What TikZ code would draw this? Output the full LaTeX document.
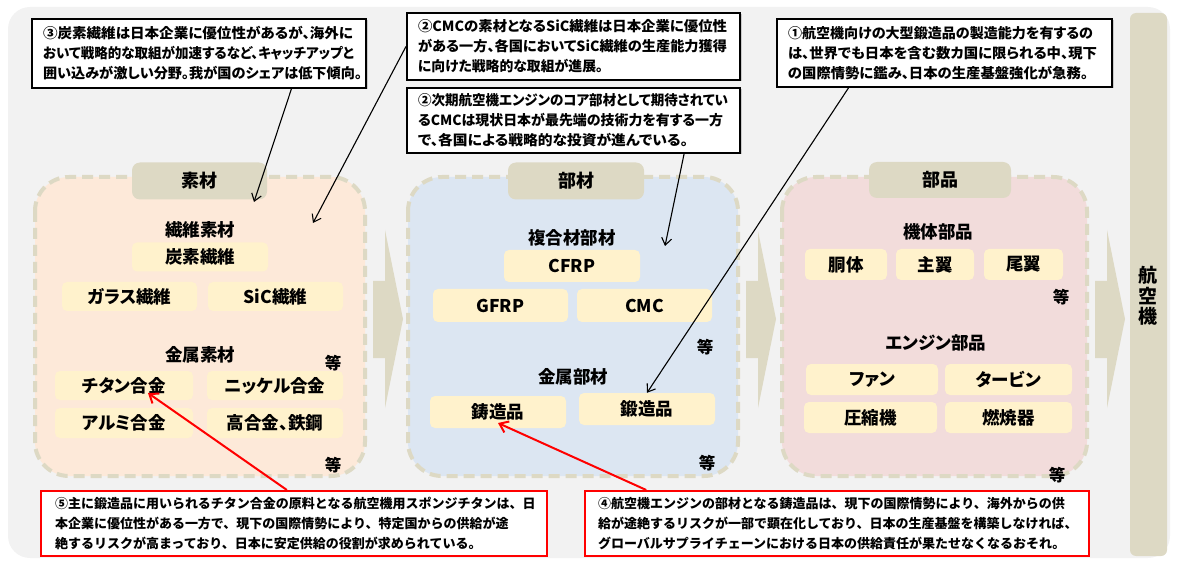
\documentclass[tikz,border=0pt]{standalone}
\usepackage{graphicx}
\usepackage{fontspec}
\setmainfont{Noto Sans CJK JP}[RawFeature=+palt]
\newfontfamily\jpfw{Noto Sans CJK JP}
\usetikzlibrary{arrows.meta,shadows,calc}
\definecolor{bggray}{HTML}{F2F2F2}
\definecolor{tan}{HTML}{DDD9C4}
\definecolor{peach}{HTML}{FDE9D9}
\definecolor{lblue}{HTML}{DCE6F2}
\definecolor{lpink}{HTML}{F2DCDB}
\definecolor{itemy}{HTML}{FFF2CC}
\newcommand\fitw[2]{\resizebox{#1pt}{\height}{#2}}
\tikzset{
  panel/.style={draw=tan, line width=4pt, dash pattern=on 11pt off 6pt, rounded corners=34pt},
  tab/.style={fill=tan, rounded corners=8pt, inner sep=0pt, font=\bfseries\fontsize{18}{20}\selectfont},
  item/.style={fill=itemy, rounded corners=5pt, inner sep=0pt, font=\bfseries\fontsize{17.5}{19}\selectfont},
  lbl/.style={inner sep=0pt, font=\bfseries\fontsize{17.5}{19}\selectfont},
  etc/.style={inner sep=0pt, font=\bfseries\fontsize{16.5}{18}\selectfont},
  chev/.style={fill=tan},
  callout/.style={draw=black, line width=2pt, fill=white, inner xsep=0pt, inner ysep=0pt, align=left,
    font=\bfseries\fontsize{14}{20}\selectfont,
    drop shadow={shadow xshift=1.5pt, shadow yshift=-1.5pt, opacity=0.35}},
  redbox/.style={draw=red, line width=2pt, fill=white, inner xsep=0pt, inner ysep=0pt, align=left,
    font=\jpfw\bfseries\fontsize{13}{20}\selectfont},
  blk/.style={draw=black, line width=1.1pt, -{Straight Barb[length=7pt,width=10pt]}},
  redarr/.style={draw=red, line width=2pt, -{Straight Barb[length=8pt,width=12pt]}},
}
\begin{document}
\begin{tikzpicture}[x=1pt,y=-1pt]
\useasboundingbox (0,0) rectangle (1178,561);
% background
\fill[bggray, rounded corners=22pt] (8,7) rectangle (1170,558);

% panels
\filldraw[panel, fill=peach] (35,177) rectangle (365,476);
\filldraw[panel, fill=lblue] (408,177) rectangle (738,476);
\filldraw[panel, fill=lpink] (782,177) rectangle (1087,476);

% tabs
\node[tab, minimum width=135pt, minimum height=37pt] (t1) at (199.5,181) {素材};
\node[tab, minimum width=136pt, minimum height=37pt] (t2) at (576,181) {部材};
\node[tab, minimum width=142pt, minimum height=36pt] (t3) at (940,180) {部品};

% chevrons
\fill[chev] (373,281) -- (385,281) -- (385,230) -- (403,319) -- (385,408) -- (385,358) -- (373,358) -- cycle;
\fill[chev] (746,281) -- (758,281) -- (758,231) -- (776,319) -- (758,408) -- (758,358) -- (746,358) -- cycle;
\fill[chev] (1095,281) -- (1107,281) -- (1107,230) -- (1125,319) -- (1107,408) -- (1107,358) -- (1095,358) -- cycle;

% aircraft column
\fill[tan, rounded corners=6pt] (1130,13) rectangle (1167,556);
\node[inner sep=0pt, align=center, font=\bfseries\fontsize{19}{20.5}\selectfont] (ac) at (1148,296) {航\\空\\機};

% 素材 panel
\node[lbl] (l11) at (200,230) {繊維素材};
\node[item, minimum width=136pt, minimum height=29pt] (cf) at (200,257) {炭素繊維};
\node[item, minimum width=135pt, minimum height=29pt] (gf) at (129.5,296.5) {ガラス繊維};
\node[item, minimum width=135pt, minimum height=29pt] (sf) at (275.5,296.5) {SiC繊維};
\node[lbl] (l12) at (200,355) {金属素材};
\node[etc] (e11) at (333,363) {等};
\node[item, minimum width=138pt, minimum height=29pt] (ti) at (124,385.5) {チタン合金};
\node[item, minimum width=136pt, minimum height=29pt] (ni) at (275,385.5) {ニッケル合金};
\node[item, minimum width=138pt, minimum height=30pt] (al) at (124,423) {アルミ合金};
\node[item, minimum width=136pt, minimum height=30pt] (st) at (275,423) {高合金、鉄鋼};
\node[etc] (e12) at (333,465) {等};

% 部材 panel
\node[lbl] (l21) at (572,238) {複合材部材};
\node[item, minimum width=136pt, minimum height=32pt] (cfrp) at (572,266) {CFRP};
\node[item, minimum width=135pt, minimum height=33pt] (gfrp) at (500.5,305.5) {GFRP};
\node[item, minimum width=135pt, minimum height=33pt] (cmc) at (644.5,305.5) {CMC};
\node[etc] (e21) at (705,347) {等};
\node[lbl] (l22) at (573,377) {金属部材};
\node[item, minimum width=136pt, minimum height=32pt] (cast) at (498,412) {鋳造品};
\node[item, minimum width=136pt, minimum height=32pt] (forge) at (647,409) {鍛造品};
\node[etc] (e22) at (707,463) {等};

% 部品 panel
\node[lbl] (l31) at (938,232) {機体部品};
\node[item, minimum width=82pt, minimum height=31pt] (fus) at (846,264.5) {胴体};
\node[item, minimum width=78pt, minimum height=31pt] (mw) at (935,264.5) {主翼};
\node[item, minimum width=79pt, minimum height=31pt] (tw) at (1023.5,264.5) {尾翼};
\node[etc] (e31) at (1061,297) {等};
\node[lbl] (l32) at (936,343) {エンジン部品};
\node[item, minimum width=132pt, minimum height=31pt] (fan) at (872,379.5) {ファン};
\node[item, minimum width=127pt, minimum height=31pt] (tur) at (1008.5,379.5) {タービン};
\node[item, minimum width=133pt, minimum height=31pt] (cmp) at (870.5,417.5) {圧縮機};
\node[item, minimum width=127pt, minimum height=31pt] (cmb) at (1008.5,417.5) {燃焼器};
\node[etc] (e32) at (1057,475) {等};

% callouts top
\node[callout, minimum width=334pt, minimum height=69pt, text width=312pt] (c3) at (199,53.5)
 {\fitw{310}{③炭素繊維は日本企業に優位性があるが、海外に}\\
  \fitw{311}{おいて戦略的な取組が加速するなど、キャッチアップと}\\
  \fitw{319}{囲い込みが激しい分野。我が国のシェアは低下傾向。}};
\node[callout, minimum width=333pt, minimum height=67pt, text width=311pt] (c2a) at (573.5,46.5)
 {\fitw{309}{②CMCの素材となるSiC繊維は日本企業に優位性}\\
  \fitw{309}{がある一方、各国においてSiC繊維の生産能力獲得}\\
  \fitw{185}{に向けた戦略的な取組が進展。}};
\node[callout, minimum width=333pt, minimum height=65pt, text width=311pt] (c2b) at (573.5,120.5)
 {\fitw{310}{②次期航空機エンジンのコア部材として期待されてい}\\
  \fitw{305}{るCMCは現状日本が最先端の技術力を有する一方}\\
  \fitw{270}{で、各国による戦略的な投資が進んでいる。}};
\node[callout, minimum width=335pt, minimum height=68pt, text width=313pt] (c1) at (944.5,53)
 {\fitw{305}{①航空機向けの大型鍛造品の製造能力を有するの}\\
  \fitw{309}{は、世界でも日本を含む数カ国に限られる中、現下}\\
  \fitw{300}{の国際情勢に鑑み、日本の生産基盤強化が急務。}};

% callouts bottom
\node[redbox, minimum width=506pt, minimum height=65pt, text width=478pt] (c5) at (294,523.5)
 {⑤主に鍛造品に用いられるチタン合金の原料となる航空機用スポンジチタンは、日\\本企業に優位性がある一方で、現下の国際情勢により、特定国からの供給が途\\絶するリスクが高まっており、日本に安定供給の役割が求められている。};
\node[redbox, minimum width=504pt, minimum height=65pt, text width=478pt] (c4) at (837,523.5)
 {④航空機エンジンの部材となる鋳造品は、現下の国際情勢により、海外からの供\\給が途絶するリスクが一部で顕在化しており、日本の生産基盤を構築しなければ、\\グローバルサプライチェーンにおける日本の供給責任が果たせなくなるおそれ。};

% connector end points
\coordinate (p3) at (254,202);
\coordinate (p2a) at (313,223);
\coordinate (p2b) at (665,246);
\coordinate (p5) at (148,393);
\coordinate (p4) at (498,423);

\draw[blk] ($(c3.south west)!0.775!(c3.south east)$) -- (p3);
\draw[blk] (c2a.west) -- (p2a);
\draw[blk] ($(c2b.south west)!0.83!(c2b.south east)$) -- (p2b);
\draw[blk] ($(c1.south west)!0.215!(c1.south east)$) -- (forge.north);
\draw[redarr] ($(c5.north west)!0.486!(c5.north east)$) -- (p5);
\draw[redarr] ($(c4.north west)!0.123!(c4.north east)$) -- (p4);
\end{tikzpicture}
\end{document}
